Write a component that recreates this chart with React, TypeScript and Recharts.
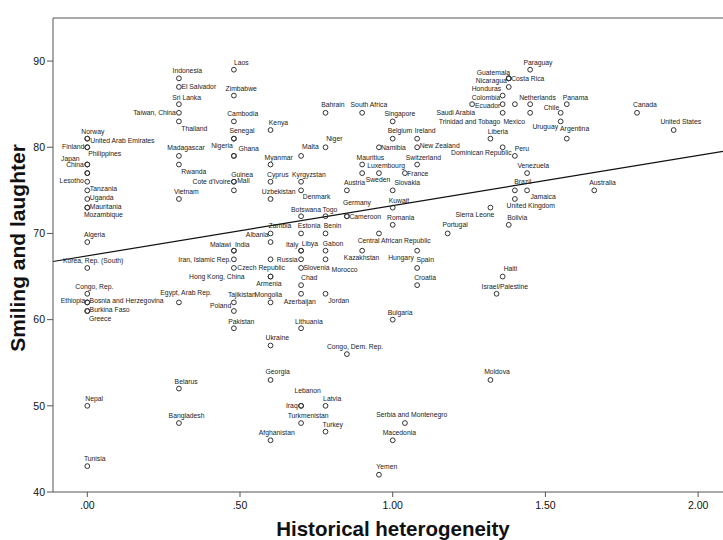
import React from 'react';
import { ScatterChart, Scatter, XAxis, YAxis, ReferenceLine } from 'recharts';

const COUNTRIES: string[] = [
  'Norway','United Arab Emirates','Finland','Philippines','Japan','China','','','Lesotho','Tanzania','Uganda','Mauritania','Mozambique','Algeria','Korea, Rep. (South)','Congo, Rep.','Ethiopia','Bosnia and Herzegovina','Burkina Faso','Greece','Nepal','Tunisia',
  'Indonesia','El Salvador','Sri Lanka','Taiwan, China','Thailand','Madagascar','Rwanda','Vietnam','Egypt, Arab Rep.','Belarus','Bangladesh',
  'Laos','Zimbabwe','Cambodia','Senegal','','Nigeria','Ghana',"Cote d'Ivoire",'Mali','Guinea','Malawi','India','Iran, Islamic Rep.','Czech Republic','Tajikistan','Poland','Pakistan',
  'Kenya','Myanmar','Cyprus','Uzbekistan','Zambia','Albania','Russia','Hong Kong, China','Armenia','Mongolia','Ukraine','Georgia','Afghanistan',
  'Malta','Kyrgyzstan','Denmark','Botswana','Estonia','Italy','Libya','','Slovenia','Chad','Azerbaijan','Lithuania','Lebanon','Iraq','Turkmenistan',
  'Bahrain','Niger','Togo','Benin','Gabon','Morocco','Jordan','Latvia','Turkey',
  'Austria','Germany','Cameroon','Congo, Dem. Rep.',
  'South Africa','Mauritius','Luxembourg','Kazakhstan',
  'Namibia','Sweden','Central African Republic','Yemen',
  'Singapore','Belgium','Slovakia','Kuwait','Romania','Bulgaria','Macedonia',
  'France','Serbia and Montenegro',
  'Ireland','New Zealand','Switzerland','Hungary','Spain','Croatia',
  'Portugal','Saudi Arabia','Liberia','Sierra Leone','Moldova','Israel/Palestine','Haiti',
  'Colombia','Ecuador','Trinidad and Tobago','Peru',
  'Guatemala','Nicaragua','Costa Rica','Honduras','Bolivia',
  '','Dominican Republic','Brazil','United Kingdom',
  'Venezuela','Jamaica','Paraguay','Netherlands','Mexico',
  'Chile','Uruguay','Panama','Argentina','Australia','Canada','United States',
];

const HISTORICAL_HETEROGENEITY: number[] = [
  0,0,0,0,0,0,0,0,0,0,0,0,0,0,0,0,0,0,0,0,0,0,
  0.30,0.30,0.30,0.30,0.30,0.30,0.30,0.30,0.30,0.30,0.30,
  0.48,0.48,0.48,0.48,0.48,0.48,0.48,0.48,0.48,0.48,0.48,0.48,0.48,0.48,0.48,0.48,0.48,
  0.60,0.60,0.60,0.60,0.60,0.60,0.60,0.60,0.60,0.60,0.60,0.60,0.60,
  0.70,0.70,0.70,0.70,0.70,0.70,0.70,0.70,0.70,0.70,0.70,0.70,0.70,0.70,0.70,
  0.78,0.78,0.78,0.78,0.78,0.78,0.78,0.78,0.78,
  0.85,0.85,0.85,0.85,
  0.90,0.90,0.90,0.90,
  0.955,0.955,0.955,0.955,
  1.00,1.00,1.00,1.00,1.00,1.00,1.00,
  1.04,1.04,
  1.08,1.08,1.08,1.08,1.08,1.08,
  1.18,1.26,1.32,1.32,1.32,1.34,1.36,
  1.36,1.36,1.36,1.36,
  1.38,1.38,1.38,1.38,1.38,
  1.40,1.40,1.40,1.40,
  1.44,1.44,1.45,1.45,1.45,
  1.55,1.55,1.57,1.57,1.66,1.80,1.92,
];

const SMILING_LAUGHTER: number[] = [
  81,81,80,80,78,78,77,77,76,75,74,73,73,69,66,63,62,62,61,61,50,43,
  88,87,85,84,83,79,78,74,62,52,48,
  89,86,83,81,81,79,79,76,76,75,68,68,67,66,62,61,59,
  82,78,76,74,70,69,67,65,65,62,57,53,46,
  79,76,75,72,70,68,68,67,66,64,63,59,50,50,48,
  84,80,72,70,68,67,63,50,47,
  75,72,72,56,
  84,78,77,68,
  80,77,70,42,
  83,81,75,73,71,60,46,
  77,48,
  81,80,78,68,66,64,
  70,85,81,73,53,63,65,
  86,85,84,80,
  88,88,88,87,71,
  85,79,75,74,
  77,75,89,85,84,
  84,83,85,81,75,84,82,
];

const X_TICKS = [0, 0.5, 1, 1.5, 2];
const Y_TICKS = [40, 50, 60, 70, 80, 90];
const X_DOMAIN: [number, number] = [-0.1123, 2.0815];
const Y_DOMAIN: [number, number] = [40, 95];
const FIT_INTERCEPT = 67.4;
const FIT_SLOPE = 5.83;

// label placement (pixel offsets from the marker): [dx, dy, anchor]
const LABEL_LAYOUT: Record<string, [number, number, string?]> = {
  'Norway': [-6, -5], 'United Arab Emirates': [3, 4], 'Finland': [-3, 1.5, 'end'], 'Philippines': [1, 9],
  'Japan': [-7.7, -3.6, 'end'], 'China': [-3.4, 2.6, 'end'], 'Lesotho': [-3.5, 1.5, 'end'],
  'Tanzania': [2.5, 1], 'Uganda': [2.5, 1], 'Mauritania': [2.5, 1], 'Mozambique': [-3.4, 9.4],
  'Algeria': [-3.4, -5.3], 'Korea, Rep. (South)': [-24.4, -5], 'Congo, Rep.': [-12, -4.3],
  'Ethiopia': [-2, 1, 'end'], 'Bosnia and Herzegovina': [2.3, 1], 'Burkina Faso': [2.3, 1], 'Greece': [1.6, 10],
  'Nepal': [-2, -4.7], 'Tunisia': [-3.4, -5.4],
  'Indonesia': [-6.3, -5], 'El Salvador': [2.5, 2], 'Sri Lanka': [-6.7, -4], 'Taiwan, China': [-3, 2.3, 'end'],
  'Thailand': [2.4, 10], 'Madagascar': [-11.6, -5.7], 'Rwanda': [2.4, 9], 'Vietnam': [-5, -5],
  'Egypt, Arab Rep.': [-18.6, -7.6], 'Belarus': [-4.3, -5], 'Bangladesh': [-10.3, -5],
  'Laos': [0, -5], 'Zimbabwe': [-8.4, -5], 'Cambodia': [-6.7, -5], 'Senegal': [-4.4, -6],
  'Nigeria': [-22.7, -8], 'Ghana': [4.6, -5.3], "Cote d'Ivoire": [-3.4, 2.6, 'end'], 'Mali': [3.3, 1.6],
  'Guinea': [-2.7, -13.3], 'Malawi': [-24, -4], 'India': [1, -4], 'Iran, Islamic Rep.': [-2.7, 2.7, 'end'],
  'Czech Republic': [3.4, 1.7], 'Tajikistan': [-6, -5.4], 'Poland': [-2.7, -3.5, 'end'], 'Pakistan': [-5.6, -4.3],
  'Kenya': [-1.7, -5.3], 'Myanmar': [-6, -5], 'Cyprus': [-3.5, -5], 'Uzbekistan': [-8.7, -4.7],
  'Zambia': [-2, -5.6], 'Albania': [-2, -4.7, 'end'], 'Russia': [6.3, 2.4], 'Hong Kong, China': [-26, 2.8, 'end'],
  'Armenia': [-14.3, 9], 'Mongolia': [-16, -5.4], 'Ukraine': [-5, -5], 'Georgia': [-5, -5.6], 'Afghanistan': [-11.7, -5],
  'Malta': [1, -6.7], 'Kyrgyzstan': [-9, -5], 'Denmark': [1.7, 8.3], 'Botswana': [-10, -4.7], 'Estonia': [-3.3, -5.6],
  'Italy': [-2.7, -4, 'end'], 'Libya': [0.7, -5], 'Slovenia': [2.3, 2.4], 'Chad': [0, -5], 'Azerbaijan': [-17.4, 10],
  'Lithuania': [-6, -4.3], 'Lebanon': [-6.7, -12.7], 'Iraq': [-3.4, 2.3, 'end'], 'Turkmenistan': [-13.4, -5],
  'Bahrain': [-4.3, -5.4], 'Niger': [0.7, -6], 'Togo': [-3, -4.7], 'Benin': [-1.7, -5.6], 'Gabon': [-2.7, -5],
  'Morocco': [6, 12.4], 'Jordan': [2.7, 9.3], 'Latvia': [-2.4, -4.7], 'Turkey': [-3, -5],
  'Austria': [-3, -5.7], 'Germany': [-4, -11.7], 'Cameroon': [2.5, 3], 'Congo, Dem. Rep.': [-20, -5],
  'South Africa': [-11.6, -5.4], 'Mauritius': [-5.6, -4.3], 'Luxembourg': [5, -5.3], 'Kazakhstan': [-18.3, 9],
  'Namibia': [2, 2.6], 'Sweden': [-13.3, 9], 'Central African Republic': [-21.3, 9.7], 'Yemen': [-2.6, -5.3],
  'Singapore': [-8.3, -5.4], 'Belgium': [-5, -5.7], 'Slovakia': [1.7, -5.3], 'Kuwait': [-4, -4.7], 'Romania': [-5.6, -5.3],
  'Bulgaria': [-5, -4.6], 'Macedonia': [-10, -5], 'France': [2.3, 2.4], 'Serbia and Montenegro': [-28.7, -5.7],
  'Ireland': [-2.3, -5.7], 'New Zealand': [2.5, 0.5], 'Switzerland': [-11.3, -5], 'Hungary': [-29, 9],
  'Spain': [-0.6, -5.8], 'Croatia': [-3, -5.3], 'Portugal': [-5.3, -6], 'Saudi Arabia': [-35.7, 10.7],
  'Liberia': [-2.7, -5], 'Sierra Leone': [-35, 9], 'Moldova': [-6.3, -5.6], 'Israel/Palestine': [-15, -5], 'Haiti': [1, -5.4],
  'Colombia': [-2.3, 4.3, 'end'], 'Ecuador': [-2.3, 4, 'end'], 'Trinidad and Tobago': [-2.3, 10.7, 'end'], 'Peru': [12, 3.4],
  'Guatemala': [-32, -3.6], 'Nicaragua': [-2, 4.4, 'end'], 'Costa Rica': [2.4, 2.4], 'Honduras': [-7.6, 4.3, 'end'],
  'Bolivia': [-1.6, -5], 'Dominican Republic': [-3.3, -0.5, 'end'], 'Brazil': [-0.7, -6], 'United Kingdom': [-8.3, 8.7],
  'Venezuela': [-9.7, -5.3], 'Jamaica': [3.3, 8.3], 'Paraguay': [-6.7, -4.7], 'Netherlands': [-11, -4], 'Mexico': [-26.7, 10.7],
  'Chile': [-17, -3.3], 'Uruguay': [-28.3, 7.7], 'Panama': [-4, -4], 'Argentina': [-6.7, -7.3], 'Australia': [-5, -5.3],
  'Canada': [-4, -5.4], 'United States': [-13.3, -6],
};

const FONT = '"Liberation Sans", Arial, sans-serif';

const data = COUNTRIES.map((name, i) => ({
  name,
  x: HISTORICAL_HETEROGENEITY[i],
  y: SMILING_LAUGHTER[i],
}));

const PointShape = (props: any) => {
  const { cx, cy, payload } = props;
  if (cx == null || cy == null) return null;
  const name: string = payload?.name ?? '';
  const lay = LABEL_LAYOUT[name] ?? [-3, -5];
  return (
    <g>
      <circle cx={cx} cy={cy} r={2.4} fill="none" stroke="#333" strokeWidth={1} />
      {name ? (
        <text
          x={cx + lay[0]}
          y={cy + lay[1]}
          textAnchor={lay[2] === 'end' ? 'end' : 'start'}
          fontSize={6.8}
          fontFamily={FONT}
          fill="#222"
        >
          {name}
        </text>
      ) : null}
    </g>
  );
};

const fmtX = (v: number) => v.toFixed(2).replace(/^0/, '');

const XTitle = (props: any) => {
  const vb = props.viewBox || { x: 53, y: 492, width: 670, height: 48 };
  return (
    <text x={vb.x + vb.width / 2 + 5} y={vb.y + vb.height - 4} textAnchor="middle" fontSize={20.5} fontWeight="bold" fontFamily={FONT} fill="#111">
      Historical heterogeneity
    </text>
  );
};

const YTitle = (props: any) => {
  const vb = props.viewBox || { x: 0, y: 18, width: 53, height: 474 };
  const cx = 25;
  const cy = vb.y + vb.height / 2 - 7;
  return (
    <text x={cx} y={cy} transform={`rotate(-90, ${cx}, ${cy})`} textAnchor="middle" fontSize={21} fontWeight="bold" fontFamily={FONT} fill="#111">
      Smiling and laughter
    </text>
  );
};

export default function App() {
  return (
    <div style={{ position: 'absolute', left: 0, top: 0, width: 723, height: 540, background: '#fff' }}>
      <ScatterChart width={723} height={540} margin={{ top: 18, right: 0, bottom: 0, left: 0 }}>
        <XAxis
          dataKey="x"
          type="number"
          domain={X_DOMAIN}
          ticks={X_TICKS}
          tickFormatter={fmtX}
          allowDataOverflow
          height={48}
          tickSize={5}
          tickMargin={5}
          stroke="#555"
          tick={{ fontSize: 10.5, fill: '#111', fontFamily: FONT }}
          label={<XTitle />}
        />
        <YAxis
          dataKey="y"
          type="number"
          domain={Y_DOMAIN}
          ticks={Y_TICKS}
          allowDataOverflow
          width={53}
          tickSize={6}
          tickMargin={2}
          stroke="#555"
          tick={{ fontSize: 10.5, fill: '#111', fontFamily: FONT }}
          label={<YTitle />}
        />
        <ReferenceLine y={Y_DOMAIN[1]} stroke="#555" strokeWidth={1} />
        <ReferenceLine
          segment={[
            { x: X_DOMAIN[0], y: FIT_INTERCEPT + FIT_SLOPE * X_DOMAIN[0] },
            { x: X_DOMAIN[1], y: FIT_INTERCEPT + FIT_SLOPE * X_DOMAIN[1] },
          ]}
          stroke="#111"
          strokeWidth={1.2}
        />
        <Scatter data={data} shape={PointShape} isAnimationActive={false} />
      </ScatterChart>
    </div>
  );
}
